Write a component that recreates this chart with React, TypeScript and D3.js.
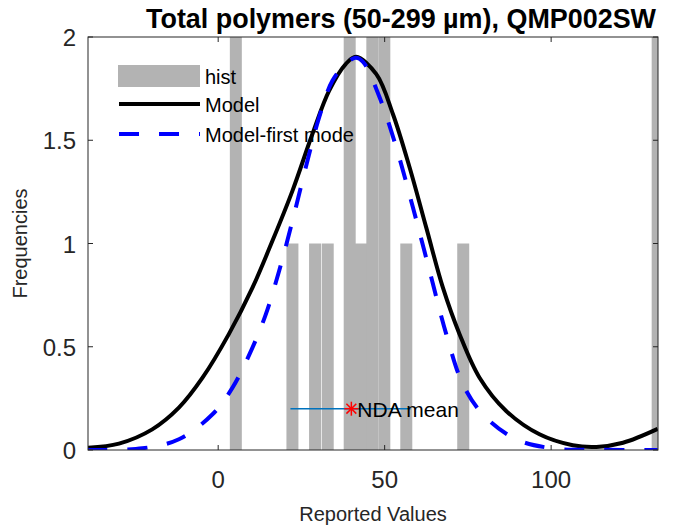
import React, { useEffect, useRef } from 'react';
import * as d3 from 'd3';

// histogram bars (centre of bar, count)
const barCenters = [5.3, 22.3, 29.1, 32.9, 39.5, 42.9, 46.3, 49.9, 56.5, 73.6, 132.0];
const barCounts = [2, 1, 1, 1, 2, 1, 2, 2, 1, 1, 2];
const barWidth = 3.6;

// fitted model
const modelX = [-39.3, -29.8, -19.8, -11.8, -4.7, 3.2, 10.3, 16.3, 22.3, 28.3, 33.3, 38.3, 41.4, 47.5, 52.5, 57.5, 62.5, 67.5, 72.5, 78.5, 86.5, 96.5, 106.5, 113.6, 121.6, 132];
const modelY = [0.011, 0.031, 0.1, 0.205, 0.35, 0.561, 0.786, 1.013, 1.255, 1.53, 1.739, 1.869, 1.904, 1.82, 1.626, 1.368, 1.077, 0.786, 0.561, 0.35, 0.189, 0.076, 0.023, 0.015, 0.035, 0.102];

const firstModeX = [-39.3, -22.8, -11.8, -1.7, 4.3, 10.3, 14.3, 18.3, 22.3, 26.3, 30.3, 34.3, 38.3, 41.3, 43.5, 48.5, 53.5, 58.5, 63.5, 68.5, 73.5, 79.5, 89.5, 100.5, 115, 132];
const firstModeY = [0.0, 0.008, 0.052, 0.173, 0.302, 0.496, 0.657, 0.867, 1.109, 1.368, 1.61, 1.788, 1.869, 1.9, 1.88, 1.707, 1.465, 1.174, 0.867, 0.561, 0.318, 0.173, 0.052, 0.008, 0.001, 0];

// NDA mean and its range
const ndaMean = 40.0;
const ndaLevel = 0.2;
const ndaRange = [21.7, 57.8];

const xTicks = [0, 50, 100];
const yTicks = [0, 0.5, 1, 1.5, 2];
const legendLabels = ['hist', 'Model', 'Model-first mode'];

const FONT = '"Liberation Sans", Arial, Helvetica, sans-serif';
const AXIS = '#262626';

const App: React.FC = () => {
  const ref = useRef<SVGSVGElement | null>(null);

  useEffect(() => {
    const svg = d3.select(ref.current);
    svg.selectAll('*').remove();

    const left = 88, right = 658, top = 37, bottom = 450;
    const x = d3.scaleLinear().domain([-39.1, 132.1]).range([left, right]);
    const y = d3.scaleLinear().domain([0, 2]).range([bottom, top]);

    svg.append('defs').append('clipPath').attr('id', 'plot-clip')
      .append('rect').attr('x', left).attr('y', top).attr('width', right - left).attr('height', bottom - top);

    const plot = svg.append('g').attr('clip-path', 'url(#plot-clip)');

    // bars
    plot.selectAll('rect.bar')
      .data(barCenters.map((c, i) => ({ c, n: barCounts[i] })))
      .enter()
      .append('rect')
      .attr('class', 'bar')
      .attr('x', d => x(d.c - barWidth / 2))
      .attr('y', d => y(d.n))
      .attr('width', d => x(d.c + barWidth / 2) - x(d.c - barWidth / 2))
      .attr('height', d => y(0) - y(d.n))
      .attr('fill', '#b3b3b3');

    const line = d3.line<[number, number]>()
      .x(d => x(d[0]))
      .y(d => y(d[1]))
      .curve(d3.curveCatmullRom);

    plot.append('path')
      .datum(modelX.map((v, i) => [v, modelY[i]] as [number, number]))
      .attr('fill', 'none')
      .attr('stroke', '#000')
      .attr('stroke-width', 4)
      .attr('d', line);

    plot.append('path')
      .datum(firstModeX.map((v, i) => [v, firstModeY[i]] as [number, number]))
      .attr('fill', 'none')
      .attr('stroke', '#0000ff')
      .attr('stroke-width', 4)
      .attr('stroke-dasharray', '20,20')
      .attr('d', line);

    // NDA mean
    plot.append('line')
      .attr('x1', x(ndaRange[0])).attr('x2', x(ndaRange[1]))
      .attr('y1', y(ndaLevel)).attr('y2', y(ndaLevel))
      .attr('stroke', '#0072bd').attr('stroke-width', 1.5);

    const sx = x(ndaMean), sy = y(ndaLevel), r = 7;
    const star = plot.append('g').attr('stroke', '#ff0000').attr('stroke-width', 1.5);
    [0, 45, 90, 135].forEach(a => {
      const rad = (a * Math.PI) / 180;
      star.append('line')
        .attr('x1', sx - r * Math.cos(rad)).attr('y1', sy - r * Math.sin(rad))
        .attr('x2', sx + r * Math.cos(rad)).attr('y2', sy + r * Math.sin(rad));
    });

    svg.append('text')
      .attr('x', sx + 6)
      .attr('y', sy + 8)
      .attr('font-family', FONT)
      .attr('font-size', 21)
      .attr('fill', '#000')
      .text('NDA mean');

    // axes box
    svg.append('rect')
      .attr('x', left).attr('y', top)
      .attr('width', right - left).attr('height', bottom - top)
      .attr('fill', 'none').attr('stroke', AXIS).attr('stroke-width', 1);

    const tickLen = 5;
    xTicks.forEach(t => {
      svg.append('line').attr('x1', x(t)).attr('x2', x(t)).attr('y1', bottom).attr('y2', bottom - tickLen).attr('stroke', AXIS);
      svg.append('line').attr('x1', x(t)).attr('x2', x(t)).attr('y1', top).attr('y2', top + tickLen).attr('stroke', AXIS);
      svg.append('text')
        .attr('x', x(t)).attr('y', 488)
        .attr('text-anchor', 'middle')
        .attr('font-family', FONT).attr('font-size', 24).attr('fill', AXIS)
        .text(String(t));
    });
    yTicks.forEach(t => {
      svg.append('line').attr('x1', left).attr('x2', left + tickLen).attr('y1', y(t)).attr('y2', y(t)).attr('stroke', AXIS);
      svg.append('line').attr('x1', right).attr('x2', right - tickLen).attr('y1', y(t)).attr('y2', y(t)).attr('stroke', AXIS);
      svg.append('text')
        .attr('x', 76).attr('y', y(t) + 9)
        .attr('text-anchor', 'end')
        .attr('font-family', FONT).attr('font-size', 24).attr('fill', AXIS)
        .text(String(t));
    });

    // labels
    svg.append('text')
      .attr('x', (left + right) / 2).attr('y', 521)
      .attr('text-anchor', 'middle')
      .attr('font-family', FONT).attr('font-size', 20).attr('fill', AXIS)
      .text('Reported Values');

    svg.append('text')
      .attr('transform', `translate(27,${(top + bottom) / 2}) rotate(-90)`)
      .attr('text-anchor', 'middle')
      .attr('font-family', FONT).attr('font-size', 20).attr('fill', AXIS)
      .text('Frequencies');

    svg.append('text')
      .attr('x', 146).attr('y', 28)
      .attr('textLength', 510).attr('lengthAdjust', 'spacingAndGlyphs')
      .attr('font-family', FONT).attr('font-size', 27.5).attr('font-weight', 'bold').attr('fill', '#000')
      .text('Total polymers (50-299 µm), QMP002SW');

    // legend
    const legend = svg.append('g');
    const rowY = [76, 104, 134];
    legend.append('rect').attr('x', 118).attr('y', rowY[0] - 11).attr('width', 82).attr('height', 22).attr('fill', '#b3b3b3');
    legend.append('line').attr('x1', 119).attr('x2', 200).attr('y1', rowY[1]).attr('y2', rowY[1]).attr('stroke', '#000').attr('stroke-width', 4);
    legend.append('line').attr('x1', 119).attr('x2', 200).attr('y1', rowY[2]).attr('y2', rowY[2]).attr('stroke', '#0000ff').attr('stroke-width', 4).attr('stroke-dasharray', '20,20');
    legendLabels.forEach((lab, i) => {
      legend.append('text')
        .attr('x', 205).attr('y', rowY[i] + 8)
        .attr('font-family', FONT).attr('font-size', 20).attr('fill', '#000')
        .text(lab);
    });
  }, []);

  return (
    <svg ref={ref} width={680} height={526} style={{ position: 'absolute', left: 0, top: 0, background: '#fff' }} />
  );
};

export default App;
